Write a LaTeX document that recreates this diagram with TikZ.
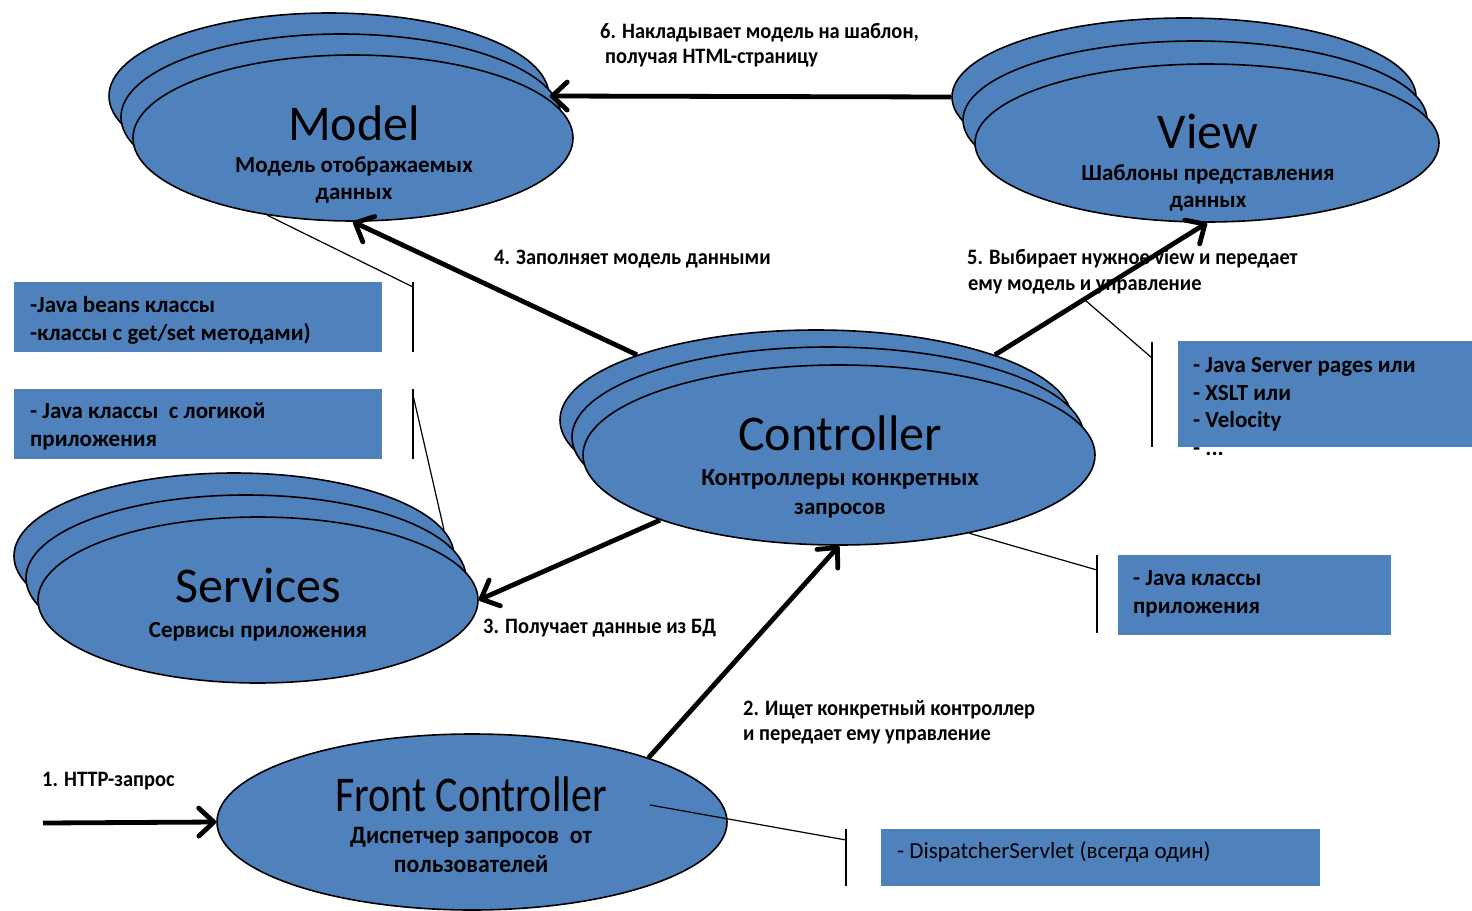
\documentclass[tikz,border=0pt]{standalone}
\usepackage{fontspec}
\setmainfont{Carlito}
\newfontfamily\cond[FakeStretch=0.84]{Carlito}
\newfontfamily\lblfont[FakeStretch=0.93]{Carlito}
\newfontfamily\fcsub[FakeStretch=0.95]{Carlito}
\usetikzlibrary{shapes.geometric,arrows.meta}
\definecolor{mvcblue}{HTML}{4F81BD}
\begin{document}
\begin{tikzpicture}[x=1pt,y=-1pt,
  ell/.style={ellipse,draw=black,line width=1.6pt,fill=mvcblue,inner sep=0pt},
  box/.style={rectangle,fill=mvcblue,inner sep=0pt,anchor=north west},
  title/.style={anchor=base,inner sep=0pt,font=\fontsize{50}{60}\selectfont},
  sub/.style={anchor=base,inner sep=0pt,font=\bfseries\fontsize{23}{28}\selectfont},
  lbl/.style={anchor=base west,inner sep=0pt,font=\lblfont\bfseries\fontsize{22}{26}\selectfont},
  btxt/.style={anchor=base west,inner sep=0pt,font=\bfseries\fontsize{23}{28}\selectfont},
  flow/.style={line width=4.8pt,-{Straight Barb[length=15pt,width=28pt,line width=4.8pt,round]}},
  callout/.style={line width=1.2pt}]
\useasboundingbox (0,0) rectangle (1472,910);
% ---------- labels of the flow ----------
\node[lbl] (l6a) at (600,38) {6. Накладывает модель на шаблон,};
\node[lbl] (l6b) at (605,63) {получая HTML-страницу};
\node[lbl] (l4) at (494,264) {4. Заполняет модель данными};
\node[lbl] (l5a) at (967,264) {5. Выбирает нужное view и передает};
\node[lbl] (l5b) at (968,290) {ему модель и управление};
\node[lbl] (l3) at (483,633) {3. Получает данные из БД};
\node[lbl] (l2a) at (743,715) {2. Ищет конкретный контроллер};
\node[lbl] (l2b) at (743,740) {и передает ему управление};
\node[lbl] (l1) at (42,786) {1. HTTP-запрос};
% ---------- Model ----------
\node[ell,minimum width=440pt,minimum height=166pt] (m3) at (329,96) {};
\node[ell,minimum width=440pt,minimum height=166pt] (m2) at (341,117) {};
\node[ell,minimum width=440pt,minimum height=166pt] (m1) at (353,138) {};
\node[title] (mt) at (354,140) {Model};
\node[sub] (ms1) at (354,172) {Модель отображаемых};
\node[sub] (ms2) at (354,199) {данных};
% ---------- View ----------
\node[ell,minimum width=464pt,minimum height=158pt] (v3) at (1184,97) {};
\node[ell,minimum width=464pt,minimum height=158pt] (v2) at (1195,120) {};
\node[ell,minimum width=464pt,minimum height=158pt] (v1) at (1207,143) {};
\node[title] (vt) at (1208,148) {View};
\node[sub] (vs1) at (1208,180) {Шаблоны представления};
\node[sub] (vs2) at (1208,207) {данных};
% ---------- Controller ----------
\node[ell,minimum width=512pt,minimum height=180pt] (c3) at (816,420) {};
\node[ell,minimum width=512pt,minimum height=180pt] (c2) at (828,437) {};
\node[ell,minimum width=512pt,minimum height=180pt] (c1) at (839,455) {};
\node[title] (ct) at (840,450) {Controller};
\node[sub,font=\bfseries\fontsize{24.5}{28}\selectfont] (cs1) at (840,485) {Контроллеры конкретных};
\node[sub] (cs2) at (840,514) {запросов};
% ---------- Services ----------
\node[ell,minimum width=440pt,minimum height=166pt] (s3) at (234,556) {};
\node[ell,minimum width=440pt,minimum height=166pt] (s2) at (246,578) {};
\node[ell,minimum width=440pt,minimum height=166pt] (s1) at (258,600) {};
\node[title] (st) at (258,602) {Services};
\node[sub] (ss1) at (258,637) {Сервисы приложения};
% ---------- Front Controller ----------
\node[ell,minimum width=510pt,minimum height=176pt] (fc) at (472,822) {};
\node[title,font=\cond\fontsize{50}{60}\selectfont] (ft) at (471,811) {Front Controller};
\node[sub,font=\fcsub\bfseries\fontsize{25}{28}\selectfont] (fs1) at (471,843) {Диспетчер запросов\ \ от};
\node[sub,font=\fcsub\bfseries\fontsize{25}{28}\selectfont] (fs2) at (471,872) {пользователей};
% ---------- boxes ----------
\node[box,minimum width=368pt,minimum height=70pt] (b1) at (14,282) {};
\node[box,minimum width=368pt,minimum height=70pt] (b2) at (14,389) {};
\node[box,minimum width=294pt,minimum height=106pt] (b3) at (1178,341) {};
\node[box,minimum width=273pt,minimum height=80pt] (b4) at (1118,555) {};
\node[box,minimum width=439pt,minimum height=57pt] (b5) at (881,829) {};
\node[btxt] (t1a) at (30,312) {-Java beans классы};
\node[btxt] (t1b) at (30,340) {-классы с get/set методами)};
\node[btxt] (t2a) at (30,418) {- Java классы\ \ с логикой};
\node[btxt] (t2b) at (30,446) {приложения};
\node[btxt] (t3a) at (1193,372) {- Java Server pages или};
\node[btxt] (t3b) at (1193,400) {- XSLT или};
\node[btxt] (t3c) at (1193,427) {- Velocity};
\node[btxt] (t3d) at (1193,455) {- ...};
\node[btxt] (t4a) at (1133,585) {- Java классы};
\node[btxt] (t4b) at (1133,613) {приложения};
\node[btxt,font=\fontsize{23}{28}\selectfont] (t5) at (897,858) {- DispatcherServlet (всегда один)};
% ---------- callout brackets ----------
\coordinate (k1t) at (413,282); \coordinate (k1a) at (413,287); \coordinate (k1b) at (413,352);
\coordinate (k2t) at (413,389); \coordinate (k2a) at (413,395); \coordinate (k2b) at (413,459);
\coordinate (k3t) at (1152,342); \coordinate (k3a) at (1152,358); \coordinate (k3b) at (1152,447);
\coordinate (k4t) at (1097,555); \coordinate (k4a) at (1097,570); \coordinate (k4b) at (1097,633);
\coordinate (k5t) at (846,829); \coordinate (k5a) at (846,840); \coordinate (k5b) at (846,886);
\coordinate (p3) at (1085,300);
\coordinate (p5) at (650,805);
\draw[callout] (m1.222) -- (k1a);
\draw[callout] (k1t) -- (k1b);
\draw[callout] (s3.7) -- (k2a);
\draw[callout] (k2t) -- (k2b);
\draw[callout] (p3) -- (k3a);
\draw[callout] (k3t) -- (k3b);
\draw[callout] (c1.-31) -- (k4a);
\draw[callout] (k4t) -- (k4b);
\draw[callout] (p5) -- (k5a);
\draw[callout] (k5t) -- (k5b);
% ---------- flow arrows ----------
\coordinate (in) at (43,823);
\draw[flow] (in) -- (fc.west);
\draw[flow] (fc.20) -- (c1.south);
\draw[flow] (c1.200) -- (s1.east);
\draw[flow] (c3.160) -- (m1.south);
\draw[flow] (c3.20) -- (v1.south);
\draw[flow] (v3.west) -- (m3.east);
\end{tikzpicture}
\end{document}
